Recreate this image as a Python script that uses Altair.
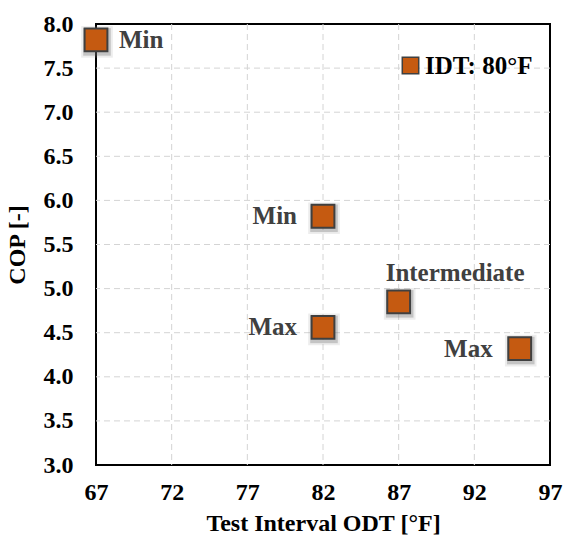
import altair as alt
import pandas as pd

odt = [67, 82, 82, 87, 95]
cop = [7.82, 5.82, 4.56, 4.85, 4.32]
labels = ["Min", "Min", "Max", "Intermediate", "Max"]
series = ["IDT: 80°F"] * 5

x_ticks = [67, 72, 77, 82, 87, 92, 97]
y_ticks = [3.0, 3.5, 4.0, 4.5, 5.0, 5.5, 6.0, 6.5, 7.0, 7.5, 8.0]

df = pd.DataFrame({"odt": odt, "cop": cop, "label": labels, "series": series})
gx = pd.DataFrame({"v": x_ticks[1:-1]})
gy = pd.DataFrame({"v": y_ticks[1:-1]})

FONT = "Liberation Serif"
FILL = "#C55A11"
EDGE = "#404040"
GRID = "#d4d4d4"

xs = alt.Scale(domain=[67, 97], nice=False, zero=False)
ys = alt.Scale(domain=[3.0, 8.0], nice=False, zero=False)

xenc = alt.X("odt:Q", scale=xs, title="Test Interval ODT [°F]",
             axis=alt.Axis(values=x_ticks, format="d", labelFlush=False))
yenc = alt.Y("cop:Q", scale=ys, title="COP [-]",
             axis=alt.Axis(values=y_ticks, format=".1f", labelFlush=False))

vgrid = alt.Chart(gx).mark_rule(color=GRID, strokeWidth=1, strokeDash=[6, 4]).encode(
    x=alt.X("v:Q", scale=xs))
hgrid = alt.Chart(gy).mark_rule(color=GRID, strokeWidth=1, strokeDash=[6, 4]).encode(
    y=alt.Y("v:Q", scale=ys))

shadow = alt.Chart(df).mark_square(size=1000, color="#999999", opacity=0.18, xOffset=1, yOffset=2).encode(x=xenc, y=yenc)
shadow2 = alt.Chart(df).mark_square(size=760, color="#666666", opacity=0.3, xOffset=1, yOffset=2).encode(x=xenc, y=yenc)

pts = alt.Chart(df).mark_square(size=520, opacity=1, stroke=EDGE, strokeWidth=2).encode(
    x=xenc, y=yenc,
    color=alt.Color("series:N", scale=alt.Scale(range=[FILL]),
                    legend=alt.Legend(title=None, orient="none", legendX=302, legendY=29,
                                      symbolType="square", symbolSize=270,
                                      symbolStrokeColor=EDGE, symbolStrokeWidth=1.5,
                                      labelFont=FONT, labelFontSize=25, labelFontWeight="bold",
                                      labelColor="black", labelOffset=2))
)

def lab(sel, align, dx, dy):
    return alt.Chart(df).transform_filter(sel).mark_text(
        align=align, baseline="middle", dx=dx, dy=dy, font=FONT, fontSize=25,
        fontWeight="bold", color=EDGE
    ).encode(x=xenc, y=yenc, text="label:N")

l1 = lab((alt.datum.odt == 67), "left", 23, 0)
l2 = lab((alt.datum.odt == 82), "right", -26, 0)
l3 = lab((alt.datum.odt == 87), "left", -13, -29)
l4 = lab((alt.datum.odt == 95), "right", -27, 0)

chart = alt.layer(vgrid, hgrid, shadow, shadow2, pts, l1, l2, l3, l4).properties(
    width=454, height=441,
    autosize=alt.AutoSizeParams(type="none"),
    padding={"left": 96, "top": 24, "right": 14, "bottom": 74},
).configure_view(
    stroke="black", strokeWidth=2
).configure_axis(
    grid=False, domain=False, ticks=False, tickSize=0,
    labelFont=FONT, labelFontSize=24, labelFontWeight="bold", labelColor="black",
    titleFont=FONT, titleFontSize=24, titleFontWeight="bold", titleColor="black",
).configure_axisX(
    labelPadding=15, titlePadding=7
).configure_axisY(
    labelPadding=23, titlePadding=14
)

chart.save("out.html", embed_options={"renderer": "svg", "actions": False})
